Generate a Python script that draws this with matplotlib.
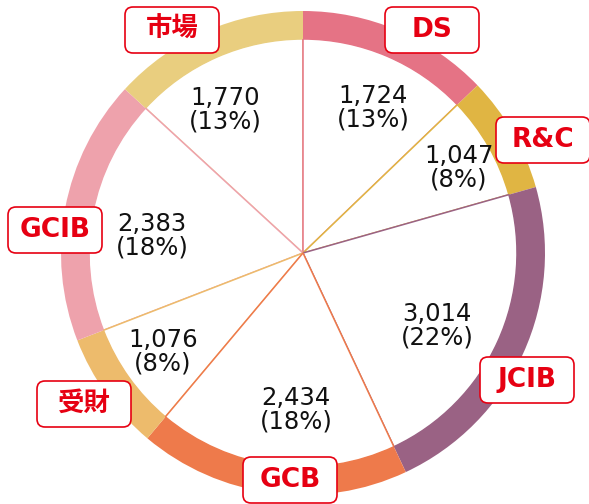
import numpy as np
import matplotlib
matplotlib.use('Agg')
import matplotlib.pyplot as plt
from matplotlib.patches import FancyBboxPatch

plt.rcParams['font.family'] = ['DejaVu Sans', 'Noto Sans CJK JP']

# data
segments = ['DS', 'R&C', 'JCIB', 'GCB', '受財', 'GCIB', '市場']
values = [1724, 1047, 3014, 2434, 1076, 2383, 1770]
pcts = [13, 8, 22, 18, 8, 18, 13]
colors = ['#E57385', '#E0B543', '#9A6284', '#EE7A4B', '#EDBB6C', '#EEA2AC', '#E9CE7F']

# layout (pixel positions, y from top)
cx, cy = 303, 253
r_out, ring_w = 242, 28
edge_z = [1, 2, 3, 4, 3, 2, 0.5]
name_pos = [(432, 30), (543, 140), (527, 380), (290, 480), (84, 404), (55, 230), (172, 30)]
value_pos = [(373, 108), (459, 168), (437, 326), (296, 410), (163, 352), (152, 236), (225, 110)]
box_w, box_h = 94, 46
red = '#E60012'

W, H = 589, 504
fig = plt.figure(figsize=(W / 100, H / 100), dpi=100)
ax = fig.add_axes([0, 0, 1, 1])

center = (cx, H - cy)

# white wedges with thin coloured edges
wedges, _ = ax.pie(values, colors=['white'] * len(values), startangle=90, counterclock=False,
                   radius=r_out - ring_w, center=center, frame=True,
                   wedgeprops=dict(linewidth=1.1))
for w, c, z in zip(wedges, colors, edge_z):
    w.set_edgecolor(c)
    w.set_zorder(z)

# outer coloured ring
ring, _ = ax.pie(values, colors=colors, startangle=90, counterclock=False,
                 radius=r_out, center=center, frame=True,
                 wedgeprops=dict(width=ring_w, linewidth=0))
for w in ring:
    w.set_zorder(6)

ax.set_xlim(0, W)
ax.set_ylim(0, H)
ax.set_aspect('equal')
ax.axis('off')

for i, name in enumerate(segments):
    vx, vy = value_pos[i]
    ax.text(vx, H - vy, '{:,}\n({}%)'.format(values[i], pcts[i]), ha='center', va='center',
            fontsize=17.5, color='#111111', linespacing=1.0, zorder=8)
    nx, ny = name_pos[i]
    box = FancyBboxPatch((nx - box_w / 2, H - ny - box_h / 2), box_w, box_h,
                         boxstyle='round,pad=0,rounding_size=8', facecolor='white',
                         edgecolor=red, linewidth=1.2, zorder=9)
    ax.add_patch(box)
    ax.text(nx, H - ny, name, ha='center', va='center', fontsize=19, fontweight='bold',
            color=red, zorder=10, family=['DejaVu Sans', 'Noto Sans CJK JP'])

fig.savefig('out.png', dpi=100)
